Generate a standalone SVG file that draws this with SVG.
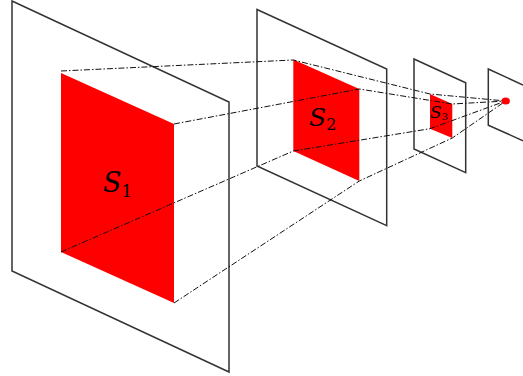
<svg xmlns="http://www.w3.org/2000/svg" width="523" height="376" viewBox="0 0 523 376">
<style>
.plane{fill:none;stroke:#333;stroke-width:1.5}
.patch{fill:#ff0000;stroke:none}
.link{fill:none;stroke:#111;stroke-width:1;stroke-dasharray:6 2 1.5 2}
.s{font-family:"DejaVu Serif","Liberation Serif",serif;font-style:italic;fill:#000}
.sub{font-style:normal}
</style>
<rect width="523" height="376" fill="#fff"/>
<g id="plane1"><path class="plane" d="M12 1L229 102V372L12 271Z"/><path class="patch" d="M61 73L174 124V303L61 252Z"/>
<text class="s" x="103" y="192" font-size="27">S<tspan class="sub" font-size="17" dy="5">1</tspan></text></g>
<g id="plane2"><path class="plane" d="M257 9.5L386.7 69V225.7L257 166Z"/><path class="patch" d="M293.3 59.5L359.3 89V181L293.3 151Z"/>
<text class="s" x="309" y="126" font-size="25">S<tspan class="sub" font-size="16" dy="4">2</tspan></text></g>
<g id="plane3"><path class="plane" d="M414 59L465.7 82.7V172.7L414 149Z"/><path class="patch" d="M430 94L452.3 104V138L430 128.7Z"/>
<text class="s" x="430" y="118" font-size="17">S<tspan class="sub" font-size="10" dy="2">3</tspan></text></g>
<g id="connectors">
<path class="link" d="M61 71L293.3 60L430 94L505.7 101"/>
<path class="link" d="M174 124L359.3 89L452.3 104L505.7 101"/>
<path class="link" d="M61 252L293.3 151L430 128.7L505.7 101"/>
<path class="link" d="M174 303L359.3 181L452.3 138L505.7 101"/>
</g>
<g id="plane4"><path class="plane" d="M523 85L488.3 69V125.3L523 140.7"/><ellipse class="patch" cx="505.7" cy="101" rx="4.2" ry="3.6"/></g>
</svg>
